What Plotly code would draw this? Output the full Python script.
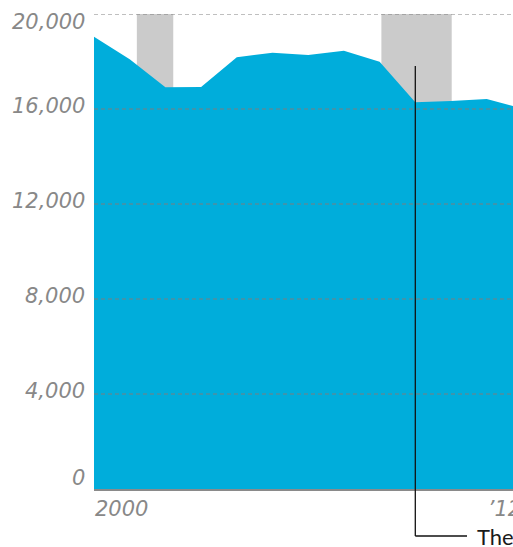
import plotly.graph_objects as go

# ---- data ----
periods = list(range(13))  # consecutive periods starting 2000
values = [19044, 18093, 16914, 16930, 18177, 18370, 18274, 18455, 17992, 16282, 16337, 16421, 16021]
x_tick_positions = [0, 11]
x_tick_labels = ["2000", "\u201912"]
y_ticks = [0, 4000, 8000, 12000, 16000, 20000]
y_tick_labels = ["0", "4,000", "8,000", "12,000", "16,000", "20,000"]
recession_start = [1.2, 8.05]
recession_end = [2.22, 10.02]
callout_period = 9
callout_value = 17810
callout_text = "The recession"

# ---- style ----
BLUE = "#00ADDB"
GRAY_TXT = "#888888"
LABEL_FONT = dict(family="DejaVu Sans", size=21, color=GRAY_TXT, style="italic")

W, H = 513, 547
ML, MT = 94, 14
plot_bottom = 489
MB = H - plot_bottom
plot_h = H - MT - MB
px_per_period = 35.7
x_max = (W - ML) / px_per_period

fig = go.Figure()
fig.add_trace(go.Scatter(
    x=periods, y=values, mode="lines", fill="tozeroy",
    fillcolor=BLUE, line=dict(width=0, color=BLUE), hoverinfo="skip",
    showlegend=False,
))

shapes = []
for s, e in zip(recession_start, recession_end):
    shapes.append(dict(type="rect", xref="x", yref="y", x0=s, x1=e, y0=0, y1=y_ticks[-1],
                       fillcolor="#CBCBCB", line=dict(width=0), layer="below"))
for v in y_ticks[1:]:
    shapes.append(dict(type="line", xref="paper", yref="y", x0=0, x1=1, y0=v, y1=v,
                       line=dict(color="rgba(125,125,125,0.65)", width=1.5, dash="4px,3px"),
                       layer="above"))

# callout elbow line
bottom_px = 536
bottom_paper = (plot_bottom - bottom_px) / plot_h
shapes.append(dict(type="line", xref="x", yref="y", x0=callout_period, x1=callout_period,
                   y0=callout_value, y1=0, line=dict(color="#111111", width=1.3), layer="above"))
shapes.append(dict(type="line", xref="x", yref="paper", x0=callout_period, x1=callout_period,
                   y0=0, y1=bottom_paper, line=dict(color="#111111", width=1.3), layer="above"))
end_x = callout_period + (468 - 416.3) / px_per_period
shapes.append(dict(type="line", xref="x", yref="paper", x0=callout_period, x1=end_x,
                   y0=bottom_paper, y1=bottom_paper, line=dict(color="#111111", width=1.3), layer="above"))

annotations = []
shifts = {0: 11, 20000: -7.5}
for v, t in zip(y_ticks, y_tick_labels):
    annotations.append(dict(x=0, xref="paper", xanchor="right", xshift=-7,
                            y=v, yref="y", yanchor="middle", yshift=shifts.get(v, 3),
                            text=t, showarrow=False, font=LABEL_FONT))
annotations.append(dict(x=end_x, xref="x", xanchor="left", xshift=8,
                        y=bottom_paper, yref="paper", yanchor="middle", yshift=0,
                        text=callout_text, showarrow=False,
                        font=dict(family="Lato", size=22, color="#1a1a1a")))

fig.update_layout(
    width=W, height=H,
    margin=dict(l=ML, r=0, t=MT, b=MB, pad=0, autoexpand=False),
    paper_bgcolor="white", plot_bgcolor="white",
    shapes=shapes, annotations=annotations,
    xaxis=dict(range=[0, x_max], tickvals=x_tick_positions, ticktext=x_tick_labels,
               ticklabelposition="outside right", ticklabeloverflow="allow",
               automargin=False,
               ticks="", showgrid=False, zeroline=False,
               showline=True, linecolor="#8a8a8a", linewidth=2,
               tickfont=LABEL_FONT, ticklabelstandoff=0, fixedrange=True),
    yaxis=dict(range=[0, y_ticks[-1]], showticklabels=False, ticks="", showgrid=False,
               zeroline=False, showline=False, fixedrange=True, automargin=False),
)

fig.write_html(
    "out.html",
    config={"displayModeBar": False},
    post_script="document.body.style.margin='0';document.body.style.overflow='hidden';",
)
